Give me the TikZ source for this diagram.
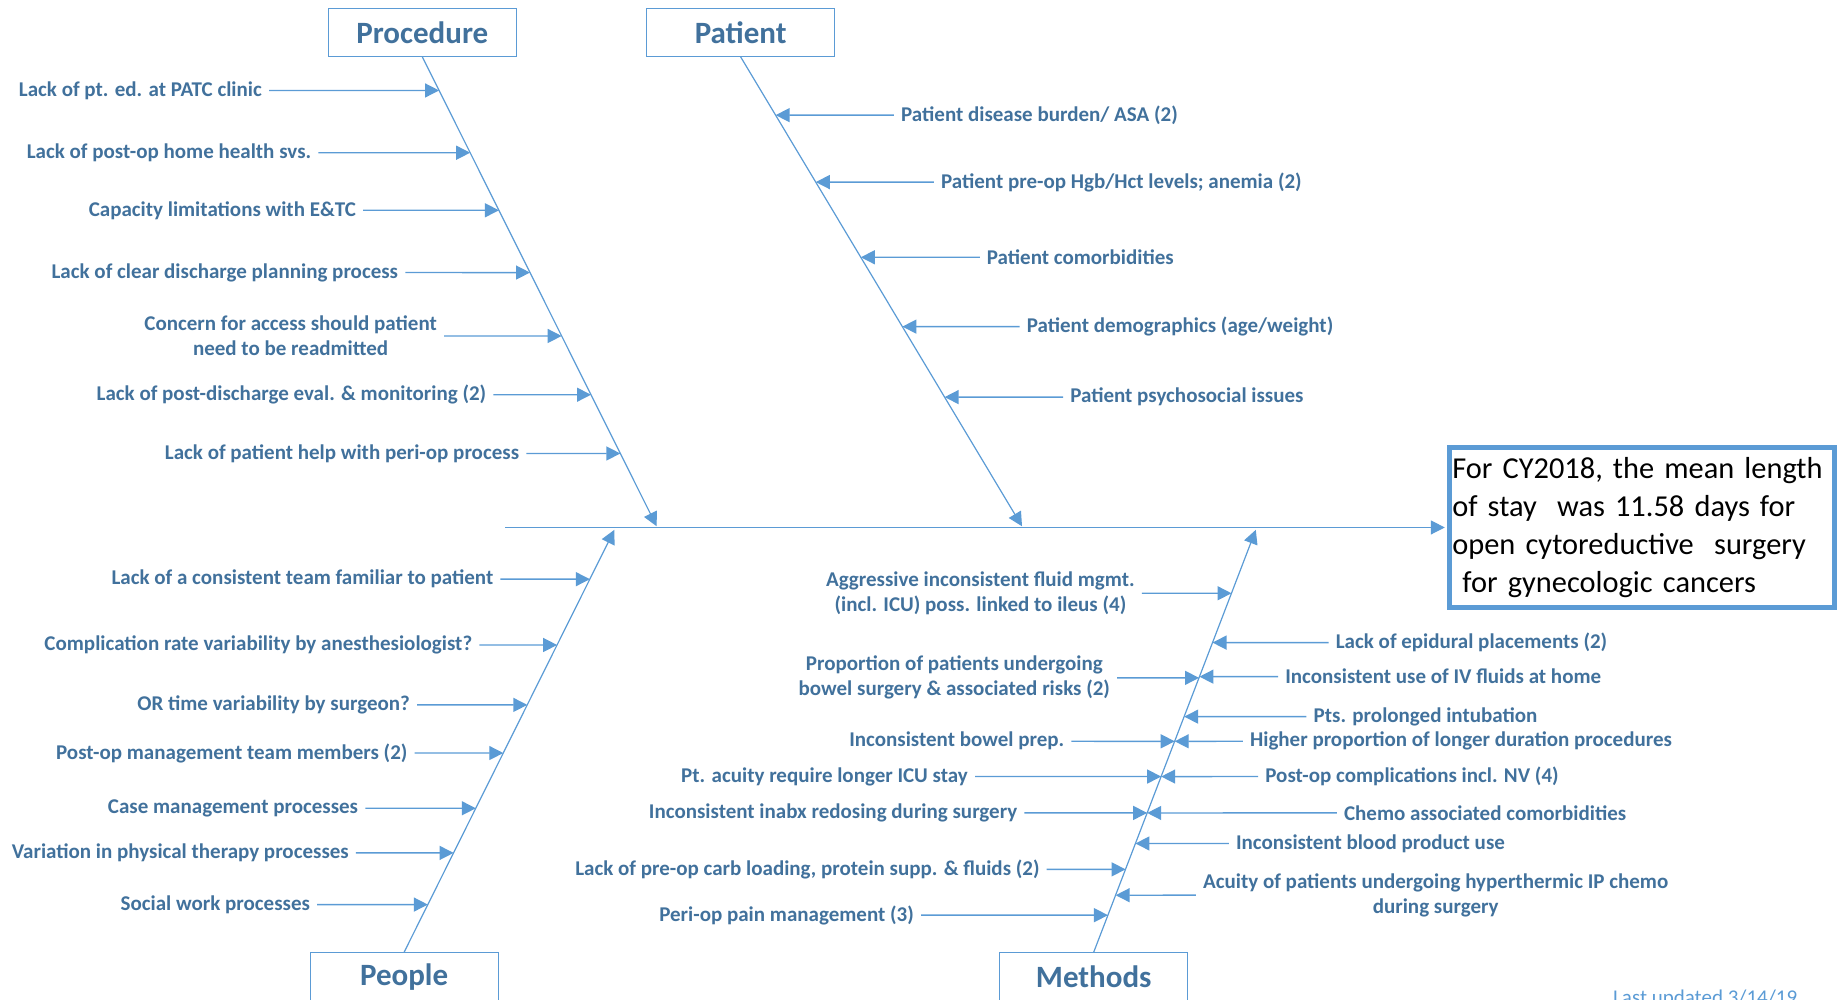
\documentclass[tikz,border=0pt]{standalone}
\usepackage{fontspec}
\setmainfont{Carlito}
\usetikzlibrary{arrows.meta}
\definecolor{boneblue}{HTML}{5B9BD5}
\definecolor{textblue}{HTML}{41719C}

\begin{document}
\begin{tikzpicture}[x=1.1747pt, y=-1.1747pt,
  bone/.style={draw=boneblue, line width=1.2pt, -{Triangle[length=14pt,width=14pt]}},
  cause/.style={draw=boneblue, line width=1.4pt, -{Triangle[length=14pt,width=14pt]}},
  causetxt/.style={text=textblue, font=\fontsize{21}{25}\selectfont\bfseries, align=center, inner xsep=7pt, inner ysep=2pt},
  catbox/.style={draw=boneblue, line width=1.2pt, minimum width=188pt, minimum height=48pt, text=textblue, font=\fontsize{31}{37}\selectfont\bfseries},
  effectbox/.style={draw=boneblue, line width=5pt, minimum width=385pt, minimum height=160pt, text width=380pt, inner xsep=2pt, align=left, font=\fontsize{30.4}{37.8}\selectfont}]
\useasboundingbox (0,0) rectangle (1568,851);
\clip (0,0) rectangle (1568,851);
% Category boxes
    \node[catbox] (procBox) at (359.5,27.5) {Procedure};
    \node[catbox] (patBox) at (630.5,27.5) {Patient};
    \node[catbox] (peopBox) at (344,831.5) {People};
    \node[catbox] (methBox) at (931,831.5) {Methods};
% Effect
    \node[effectbox] (effect) at (1398,449) {For CY2018, the mean length\\of stay~ was 11.58 days for\\open cytoreductive~ surgery\\~for gynecologic cancers};
    \node[text=boneblue, font=\fontsize{21}{25}\selectfont, anchor=base west, inner sep=0pt] (updated) at (1373,855) {Last updated 3/14/19};
% Spine and bones
    \coordinate (spineL) at (430,449);
    \coordinate (procTip) at (559,448);
    \coordinate (patTip) at (870,448);
    \coordinate (peopTip) at (523,451);
    \coordinate (methTip) at (1069,451);
    \draw[bone, shorten >=2.5pt] (spineL) -- (effect.west);
    \draw[bone] (procBox.south) -- (procTip);
    \draw[bone] (patBox.south) -- (patTip);
    \draw[bone] (peopBox.north) -- (peopTip);
    \draw[bone] (methBox.north) -- (methTip);
% Procedure causes
    \node[causetxt, anchor=east] (pr1) at (229,77) {Lack of pt. ed. at PATC clinic};
    \node[causetxt, anchor=east] (pr2) at (271,130) {Lack of post-op home health svs.};
    \node[causetxt, anchor=east] (pr3) at (309,179) {Capacity limitations with E\&TC};
    \node[causetxt, anchor=east] (pr4) at (345,232) {Lack of clear discharge planning process};
    \node[causetxt, anchor=east] (pr5) at (378,286) {Concern for access should patient\\need to be readmitted};
    \node[causetxt, anchor=east] (pr6) at (420,336) {Lack of post-discharge eval. \& monitoring (2)};
    \node[causetxt, anchor=east] (pr7) at (448,386) {Lack of patient help with peri-op process};
    \draw[cause] (pr1) -- (intersection of pr1.west--pr1.east and procBox.south--procTip);
    \draw[cause] (pr2) -- (intersection of pr2.west--pr2.east and procBox.south--procTip);
    \draw[cause] (pr3) -- (intersection of pr3.west--pr3.east and procBox.south--procTip);
    \draw[cause] (pr4) -- (intersection of pr4.west--pr4.east and procBox.south--procTip);
    \draw[cause] (pr5) -- (intersection of pr5.west--pr5.east and procBox.south--procTip);
    \draw[cause] (pr6) -- (intersection of pr6.west--pr6.east and procBox.south--procTip);
    \draw[cause] (pr7) -- (intersection of pr7.west--pr7.east and procBox.south--procTip);
% Patient causes
    \node[causetxt, anchor=west] (pa1) at (761,98) {Patient disease burden/ ASA (2)};
    \node[causetxt, anchor=west] (pa2) at (795,155) {Patient pre-op Hgb/Hct levels; anemia (2)};
    \node[causetxt, anchor=west] (pa3) at (834,219) {Patient comorbidities};
    \node[causetxt, anchor=west] (pa4) at (868,278) {Patient demographics (age/weight)};
    \node[causetxt, anchor=west] (pa5) at (905,338) {Patient psychosocial issues};
    \draw[cause] (pa1) -- (intersection of pa1.west--pa1.east and patBox.south--patTip);
    \draw[cause] (pa2) -- (intersection of pa2.west--pa2.east and patBox.south--patTip);
    \draw[cause] (pa3) -- (intersection of pa3.west--pa3.east and patBox.south--patTip);
    \draw[cause] (pa4) -- (intersection of pa4.west--pa4.east and patBox.south--patTip);
    \draw[cause] (pa5) -- (intersection of pa5.west--pa5.east and patBox.south--patTip);
% People causes
    \node[causetxt, anchor=east] (pe1) at (426,493) {Lack of a consistent team familiar to patient};
    \node[causetxt, anchor=east] (pe2) at (408,549) {Complication rate variability by anesthesiologist?};
    \node[causetxt, anchor=east] (pe3) at (355,600) {OR time variability by surgeon?};
    \node[causetxt, anchor=east] (pe4) at (353,641) {Post-op management team members (2)};
    \node[causetxt, anchor=east] (pe5) at (311,688) {Case management processes};
    \node[causetxt, anchor=east] (pe6) at (303,726) {Variation in physical therapy processes};
    \node[causetxt, anchor=east] (pe7) at (270,770) {Social work processes};
    \draw[cause] (pe1) -- (intersection of pe1.west--pe1.east and peopBox.north--peopTip);
    \draw[cause] (pe2) -- (intersection of pe2.west--pe2.east and peopBox.north--peopTip);
    \draw[cause] (pe3) -- (intersection of pe3.west--pe3.east and peopBox.north--peopTip);
    \draw[cause] (pe4) -- (intersection of pe4.west--pe4.east and peopBox.north--peopTip);
    \draw[cause] (pe5) -- (intersection of pe5.west--pe5.east and peopBox.north--peopTip);
    \draw[cause] (pe6) -- (intersection of pe6.west--pe6.east and peopBox.north--peopTip);
    \draw[cause] (pe7) -- (intersection of pe7.west--pe7.east and peopBox.north--peopTip);
% Methods causes, left
    \node[causetxt, anchor=east] (ml1) at (972,505) {Aggressive inconsistent fluid mgmt.\\(incl. ICU) poss. linked to ileus (4)};
    \node[causetxt, anchor=east] (ml2) at (951,577) {Proportion of patients undergoing\\bowel surgery \& associated risks (2)};
    \node[causetxt, anchor=east] (ml3) at (912,631) {Inconsistent bowel prep.};
    \node[causetxt, anchor=east] (ml4) at (830,661) {Pt. acuity require longer ICU stay};
    \node[causetxt, anchor=east] (ml5) at (872,692) {Inconsistent inabx redosing during surgery};
    \node[causetxt, anchor=east] (ml6) at (891,740) {Lack of pre-op carb loading, protein supp. \& fluids (2)};
    \node[causetxt, anchor=east] (ml7) at (784,779) {Peri-op pain management (3)};
    \draw[cause] (ml1) -- (intersection of ml1.west--ml1.east and methBox.north--methTip);
    \draw[cause] (ml2) -- (intersection of ml2.west--ml2.east and methBox.north--methTip);
    \draw[cause] (ml3) -- (intersection of ml3.west--ml3.east and methBox.north--methTip);
    \draw[cause] (ml4) -- (intersection of ml4.west--ml4.east and methBox.north--methTip);
    \draw[cause] (ml5) -- (intersection of ml5.west--ml5.east and methBox.north--methTip);
    \draw[cause] (ml6) -- (intersection of ml6.west--ml6.east and methBox.north--methTip);
    \draw[cause] (ml7) -- (intersection of ml7.west--ml7.east and methBox.north--methTip);
% Methods causes, right
    \node[causetxt, anchor=west] (mr1) at (1131,547) {Lack of epidural placements (2)};
    \node[causetxt, anchor=west] (mr2) at (1088,576) {Inconsistent use of IV fluids at home};
    \node[causetxt, anchor=west] (mr3) at (1112,610) {Pts. prolonged intubation};
    \node[causetxt, anchor=west] (mr4) at (1058,631) {Higher proportion of longer duration procedures};
    \node[causetxt, anchor=west] (mr5) at (1071,661) {Post-op complications incl. NV (4)};
    \node[causetxt, anchor=west] (mr6) at (1138,692) {Chemo associated comorbidities};
    \node[causetxt, anchor=west] (mr7) at (1046,718) {Inconsistent blood product use};
    \node[causetxt, anchor=west] (mr8) at (1018,762) {Acuity of patients undergoing hyperthermic IP chemo\\during surgery};
    \draw[cause] (mr1) -- (intersection of mr1.west--mr1.east and methBox.north--methTip);
    \draw[cause] (mr2) -- (intersection of mr2.west--mr2.east and methBox.north--methTip);
    \draw[cause] (mr3) -- (intersection of mr3.west--mr3.east and methBox.north--methTip);
    \draw[cause] (mr4) -- (intersection of mr4.west--mr4.east and methBox.north--methTip);
    \draw[cause] (mr5) -- (intersection of mr5.west--mr5.east and methBox.north--methTip);
    \draw[cause] (mr6) -- (intersection of mr6.west--mr6.east and methBox.north--methTip);
    \draw[cause] (mr7) -- (intersection of mr7.west--mr7.east and methBox.north--methTip);
    \draw[cause] (mr8) -- (intersection of mr8.west--mr8.east and methBox.north--methTip);
\end{tikzpicture}
\end{document}
